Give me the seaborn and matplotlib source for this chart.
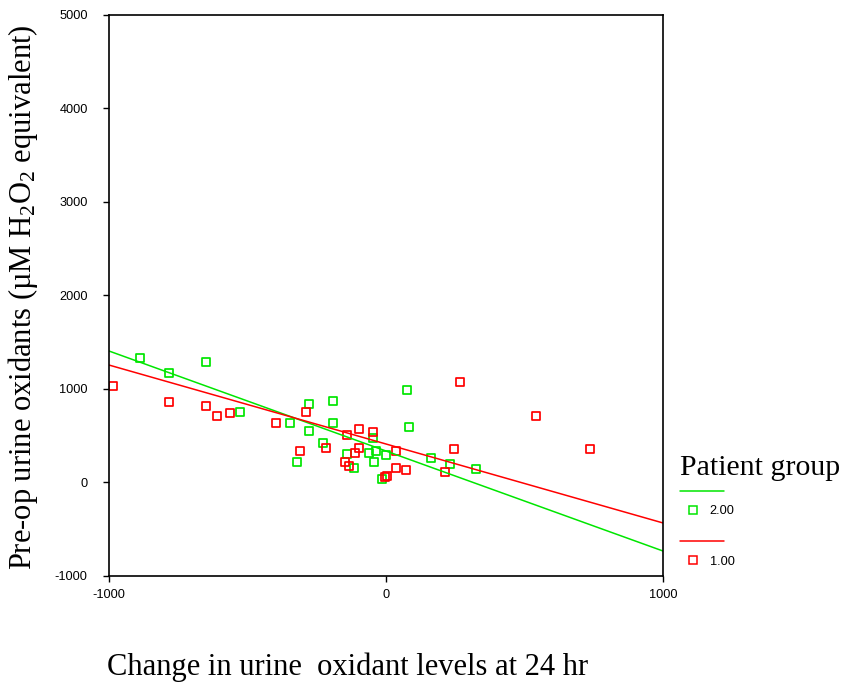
import numpy as np
import pandas as pd
import matplotlib
matplotlib.use("Agg")
import matplotlib.pyplot as plt
import seaborn as sns
from matplotlib.lines import Line2D
from matplotlib.legend_handler import HandlerBase

# ---- data ----
green_x = [-888, -783, -650, -527, -347, -321, -278, -278, -191, -191, -227, -141,
           -116, -61, -47, -36, -43, 0, -14, 76, 83, 162, 231, 325]
green_y = [1329, 1168, 1286, 751, 633, 216, 836, 548, 868, 633, 419, 301,
           152, 312, 472, 333, 216, 291, 34, 986, 591, 259, 195, 141]
red_x = [-986, -783, -650, -610, -563, -397, -310, -289, -217, -141, -97, -47, -97,
         -112, -148, -134, 36, 36, 72, -4, 4, 213, 245, 267, 542, 736]
red_y = [1029, 858, 815, 708, 740, 633, 334, 751, 366, 505, 569, 537, 366,
         312, 216, 173, 333, 152, 131, 56, 66, 109, 355, 1072, 708, 355]
# fitted lines as drawn in the reference (values at the ends of the x axis)
fit_x = [-1000, 1000]
green_fit = [1403, -736]
red_fit = [1253, -436]
groups = ["2.00", "1.00"]
x_ticks = [-1000, 0, 1000]
y_ticks = [-1000, 0, 1000, 2000, 3000, 4000, 5000]
x_label = "Change in urine  oxidant levels at 24 hr"
y_label = r"Pre-op urine oxidants (µM H$_\mathregular{2}$O$_\mathregular{2}$ equivalent)"
legend_title = "Patient group"

pts = pd.DataFrame({
    "change": green_x + red_x,
    "preop": green_y + red_y,
    "group": [groups[0]] * len(green_x) + [groups[1]] * len(red_x),
})
fits = pd.DataFrame({
    "change": fit_x + fit_x,
    "preop": green_fit + red_fit,
    "group": [groups[0]] * 2 + [groups[1]] * 2,
})

colors = {"2.00": "#00e600", "1.00": "#ff0000"}

sns.set_theme(style="white")
plt.rcParams["font.family"] = ["Liberation Sans", "DejaVu Sans"]
plt.rcParams["axes.unicode_minus"] = False
plt.rcParams["mathtext.fontset"] = "custom"
plt.rcParams["mathtext.rm"] = "Liberation Serif"
plt.rcParams["mathtext.it"] = "Liberation Serif:italic"
plt.rcParams["mathtext.bf"] = "Liberation Serif:bold"

fig = plt.figure(figsize=(8.43, 6.83), dpi=100)
ax = fig.add_axes([0.1293, 0.1571, 0.6572, 0.8214])

for g in groups:
    col = colors[g]
    sns.lineplot(data=fits[fits["group"] == g], x="change", y="preop", ax=ax,
                 color=col, lw=1.1, legend=False)
for g in groups:
    col = colors[g]
    sns.scatterplot(data=pts[pts["group"] == g], x="change", y="preop", ax=ax,
                    marker="s", s=34, facecolors="none", edgecolor=col,
                    linewidth=1.25, legend=False)

ax.set_xlim(-1000, 1000)
ax.set_ylim(-1000, 5000)
ax.set_xticks(x_ticks)
ax.set_yticks(y_ticks)
ax.tick_params(axis="both", direction="out", length=4.3, width=1.0,
               colors="black", labelsize=9.2, bottom=True, left=True)
ax.tick_params(axis="x", pad=5)
ax.tick_params(axis="y", pad=11)
for s in ax.spines.values():
    s.set_color("black")
    s.set_linewidth(1.2)

ax.set_xlabel(x_label, fontfamily="Liberation Serif", fontsize=22, color="black")
ax.set_ylabel(y_label, fontfamily="Liberation Serif", fontsize=22, color="black")
ax.xaxis.set_label_coords(0.43, -0.137)
ax.yaxis.set_label_coords(-0.1245, 0.496)


class GroupHandler(HandlerBase):
    def create_artists(self, legend, orig_handle, xdescent, ydescent,
                       width, height, fontsize, trans):
        col = orig_handle.get_color()
        cy = -ydescent + height / 2
        x0 = -xdescent
        line = Line2D([x0, x0 + 31.7], [cy + 13.7, cy + 13.7], color=col,
                      lw=1.1, transform=trans)
        mk = Line2D([x0 + 9.4], [cy], marker="s", ms=5.5, mfc="none",
                    mec=col, mew=1.1, ls="none", transform=trans)
        return [line, mk]


fig.text(680 / 843, 1 - 468 / 683, legend_title, fontfamily="Liberation Serif",
         fontsize=21.5, ha="left", va="center", color="black")
handles = [Line2D([], [], color=colors[g]) for g in groups]
leg = fig.legend(handles, groups, handler_map={Line2D: GroupHandler()},
                 loc="upper left", bbox_to_anchor=(680 / 843, 1 - 505 / 683),
                 frameon=False, fontsize=9.2, handlelength=2.0,
                 handletextpad=0.32, labelspacing=3.03,
                 borderaxespad=0, borderpad=0)
for t in leg.get_texts():
    t.set_color("black")

fig.savefig("out.png", dpi=100, facecolor="white")
